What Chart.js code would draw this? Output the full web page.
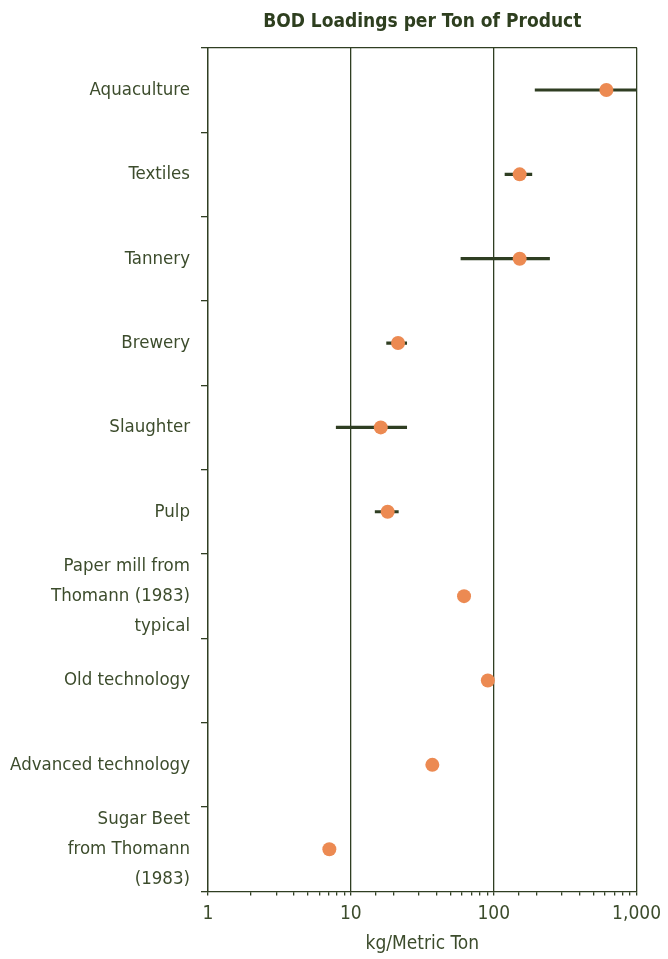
<!DOCTYPE html>
<html>
<head>
<meta charset="utf-8">
<script src="https://cdn.jsdelivr.net/npm/chart.js@4"></script>
<style>
  html, body { margin: 0; padding: 0; background: #ffffff; }
  #wrap { width: 668px; height: 959px; position: relative; }
</style>
</head>
<body>
<div id="wrap"><canvas id="c"></canvas></div>
<script>
// ---- data ----
const categories = [
  'Aquaculture',
  'Textiles',
  'Tannery',
  'Brewery',
  'Slaughter',
  'Pulp',
  ['Paper mill from', 'Thomann (1983)', 'typical'],
  'Old technology',
  'Advanced technology',
  ['Sugar Beet', 'from Thomann', '(1983)']
];
const bodValues = [615, 152, 152, 21.4, 16.2, 18.1, 62, 91, 37.2, 7.07];
const rangeLow  = [195, 120, 59, 17.8, 7.9, 14.8, null, null, null, null];
const rangeHigh = [1000, 185, 246, 24.6, 24.6, 21.5, null, null, null, null];
const xTickValues = [1, 10, 100, 1000];
const titleText = 'BOD Loadings per Ton of Product';
const xAxisTitle = 'kg/Metric Ton';

// ---- style ----
const FONT = "'DejaVu Sans Condensed', 'Liberation Sans Narrow', sans-serif";
const TEXT = '#3c4c2c';
const DARK = '#2f3e22';
const ORANGE = '#ec8a52';

const ranges = rangeLow.map((l, i) => (l == null ? null : [l, rangeHigh[i]]));

new Chart(document.getElementById('c'), {
  type: 'bar',
  data: {
    labels: categories,
    datasets: [
      {
        type: 'bar',
        label: 'Range',
        data: ranges,
        backgroundColor: DARK,
        borderWidth: 0,
        barThickness: 2.5,
        order: 2
      },
      {
        type: 'line',
        label: 'BOD',
        data: bodValues,
        showLine: false,
        pointRadius: 7,
        pointHoverRadius: 7,
        pointBackgroundColor: ORANGE,
        pointBorderWidth: 0,
        borderColor: ORANGE,
        order: 1
      }
    ]
  },
  options: {
    indexAxis: 'y',
    responsive: true,
    maintainAspectRatio: false,
    animation: false,
    layout: { padding: { left: 0, right: 25, top: 0, bottom: 4 } },
    plugins: {
      legend: { display: false },
      tooltip: { enabled: false },
      title: { display: false }
    },
    scales: {
      y: {
        type: 'category',
        offset: true,
        grid: {
          offset: true,
          drawOnChartArea: false,
          tickLength: 7,
          tickColor: DARK,
          lineWidth: 1.3
        },
        border: { display: true, color: DARK, width: 1.3 },
        ticks: {
          color: TEXT,
          padding: 11,
          autoSkip: false,
          font: { family: FONT, size: 18.5, lineHeight: 1.62 }
        },
        afterFit: (scale) => {
          scale.width = 208;
          scale.paddingTop = 0;
          scale.paddingBottom = 0;
        }
      },
      x: {
        type: 'logarithmic',
        position: 'bottom',
        min: 1,
        max: 1000,
        grid: {
          drawOnChartArea: true,
          color: (ctx) => {
            const v = ctx.tick && ctx.tick.value;
            return xTickValues.includes(v) ? DARK : 'rgba(0,0,0,0)';
          },
          tickColor: DARK,
          tickLength: 4,
          lineWidth: 1.3
        },
        border: { display: true, color: DARK, width: 1.3 },
        ticks: {
          color: TEXT,
          autoSkip: false,
          maxRotation: 0,
          padding: 7,
          font: { family: FONT, size: 19 },
          callback: (value) => (xTickValues.includes(value) ? value.toLocaleString('en-US') : '')
        },
        title: {
          display: true,
          text: xAxisTitle,
          color: TEXT,
          padding: { top: 0, bottom: 0 },
          font: { family: FONT, size: 19 }
        }
      },
      x2: {
        type: 'logarithmic',
        position: 'top',
        min: 1,
        max: 1000,
        grid: { display: false },
        ticks: { display: false },
        border: { display: true, color: DARK, width: 1.3 },
        title: {
          display: true,
          text: titleText,
          color: '#2e3f1f',
          padding: { top: 11, bottom: 6 },
          font: { family: FONT, size: 19, weight: 'bold' }
        }
      }
    }
  }
});
</script>
</body>
</html>
